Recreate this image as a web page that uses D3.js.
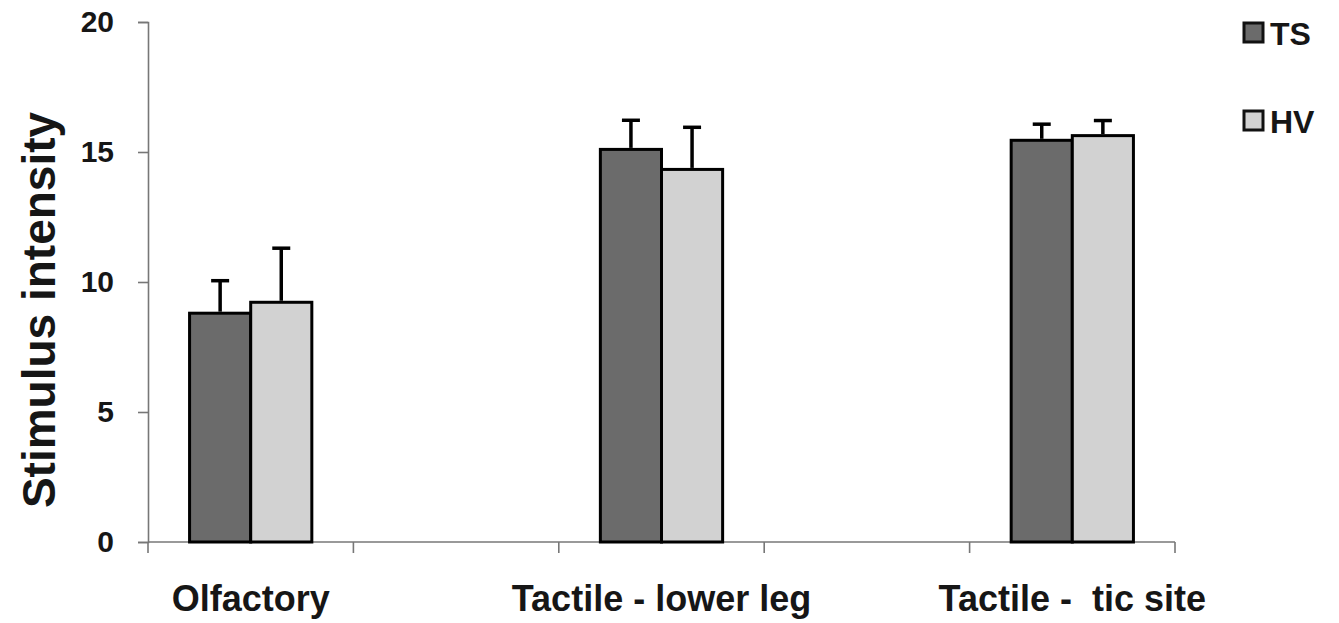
<!DOCTYPE html>
<html>
<head>
<meta charset="utf-8">
<script src="https://cdn.jsdelivr.net/npm/d3@7"></script>
<style>
  html, body { margin: 0; padding: 0; background: #fff; }
  svg text { font-family: "Liberation Sans", Arial, sans-serif; font-weight: bold; fill: #161616; white-space: pre; }
</style>
</head>
<body>
<svg id="canvas" width="1339" height="623"></svg>
<script>
'use strict';

// categories (two empty slots, as in the original sheet)
const categories = ['Olfactory', 'gap1', 'Tactile - lower leg', 'gap2', 'Tactile -  tic site'];
const categoryLabels = ['Olfactory', '', 'Tactile - lower leg', '', 'Tactile -  tic site'];
const seriesNames = ['TS', 'HV'];
const seriesColors = ['#6b6b6b', '#d2d2d2'];
const tsValues = [8.8, null, 15.1, null, 15.45];
const tsErrors = [1.25, null, 1.12, null, 0.62];
const hvValues = [9.22, null, 14.33, null, 15.63];
const hvErrors = [2.08, null, 1.62, null, 0.58];
const yTicks = [0, 5, 10, 15, 20];

(function() {

function Main() {
  const svg = d3.select('#canvas');
  const left = 148, right = 1175, top = 22, bottom = 542;

  const x = d3.scaleBand().domain(categories).range([left, right]).padding(0);
  const y = d3.scaleLinear().domain([0, 20]).range([bottom, top]);
  const inner = d3.scaleBand().domain(seriesNames)
      .range([0, x.bandwidth()]).paddingInner(0).paddingOuter(0.68);

  const rows = [];
  categories.forEach(function(c, i) {
    [tsValues, hvValues].forEach(function(vals, s) {
      const errs = s === 0 ? tsErrors : hvErrors;
      if (vals[i] != null) {
        rows.push({cat: c, series: seriesNames[s], color: seriesColors[s],
                   value: vals[i], err: errs[i]});
      }
    });
  });

  // y axis
  const yAxis = svg.append('g')
      .attr('transform', 'translate(' + left + ',0)')
      .call(d3.axisLeft(y).tickValues(yTicks).tickSize(10).tickPadding(24));
  yAxis.select('.domain').attr('stroke', '#777').attr('stroke-width', 1.6);
  yAxis.selectAll('.tick line').attr('stroke', '#777').attr('stroke-width', 1.6);
  yAxis.selectAll('.tick text')
      .attr('font-size', 30)
      .attr('font-family', '"Liberation Sans", Arial, sans-serif')
      .attr('font-weight', 'bold')
      .attr('fill', '#161616');

  // x axis: ticks on band boundaries
  const xAxis = svg.append('g');
  xAxis.append('line')
      .attr('x1', left).attr('x2', right)
      .attr('y1', y(0)).attr('y2', y(0))
      .attr('stroke', '#777').attr('stroke-width', 1.6);
  const bounds = categories.map(function(c) { return x(c); }).concat([right]);
  xAxis.selectAll('.xt')
      .data(bounds)
    .enter().append('line')
      .attr('x1', function(d) { return d; })
      .attr('x2', function(d) { return d; })
      .attr('y1', y(0)).attr('y2', y(0) + 11)
      .attr('stroke', '#777').attr('stroke-width', 1.6);
  xAxis.selectAll('.xl')
      .data(categories)
    .enter().append('text')
      .attr('x', function(d) { return x(d) + x.bandwidth() / 2; })
      .attr('y', 611)
      .attr('text-anchor', 'middle')
      .attr('font-size', 36)
      .text(function(d, i) { return categoryLabels[i]; });

  // bars
  svg.append('g').selectAll('rect')
      .data(rows)
    .enter().append('rect')
      .attr('x', function(d) { return x(d.cat) + inner(d.series); })
      .attr('y', function(d) { return y(d.value); })
      .attr('width', inner.bandwidth())
      .attr('height', function(d) { return y(0) - y(d.value); })
      .attr('fill', function(d) { return d.color; })
      .attr('stroke', '#000')
      .attr('stroke-width', 3);

  // error bars
  const errs = svg.append('g').attr('stroke', '#000').attr('stroke-width', 3.5);
  rows.forEach(function(d) {
    const cx = x(d.cat) + inner(d.series) + inner.bandwidth() / 2;
    errs.append('line')
        .attr('x1', cx).attr('x2', cx)
        .attr('y1', y(d.value) - 1.5).attr('y2', y(d.value + d.err));
    errs.append('line')
        .attr('x1', cx - 9).attr('x2', cx + 9)
        .attr('y1', y(d.value + d.err)).attr('y2', y(d.value + d.err));
  });

  // y title
  svg.append('text')
      .attr('transform', 'translate(55,' + 310 + ') rotate(-90)')
      .attr('text-anchor', 'middle')
      .attr('font-size', 46)
      .text('Stimulus intensity');

  // legend
  const legend = svg.append('g').selectAll('g')
      .data(seriesNames)
    .enter().append('g')
      .attr('transform', function(d, i) { return 'translate(1244,' + (23 + i * 88) + ')'; });
  legend.append('rect')
      .attr('width', 19).attr('height', 19)
      .attr('fill', function(d, i) { return seriesColors[i]; })
      .attr('stroke', '#111').attr('stroke-width', 3);
  legend.append('text')
      .attr('x', 26).attr('y', 22)
      .attr('font-size', 32)
      .text(function(d) { return d; });
}

Main();

})();
</script>
</body>
</html>
